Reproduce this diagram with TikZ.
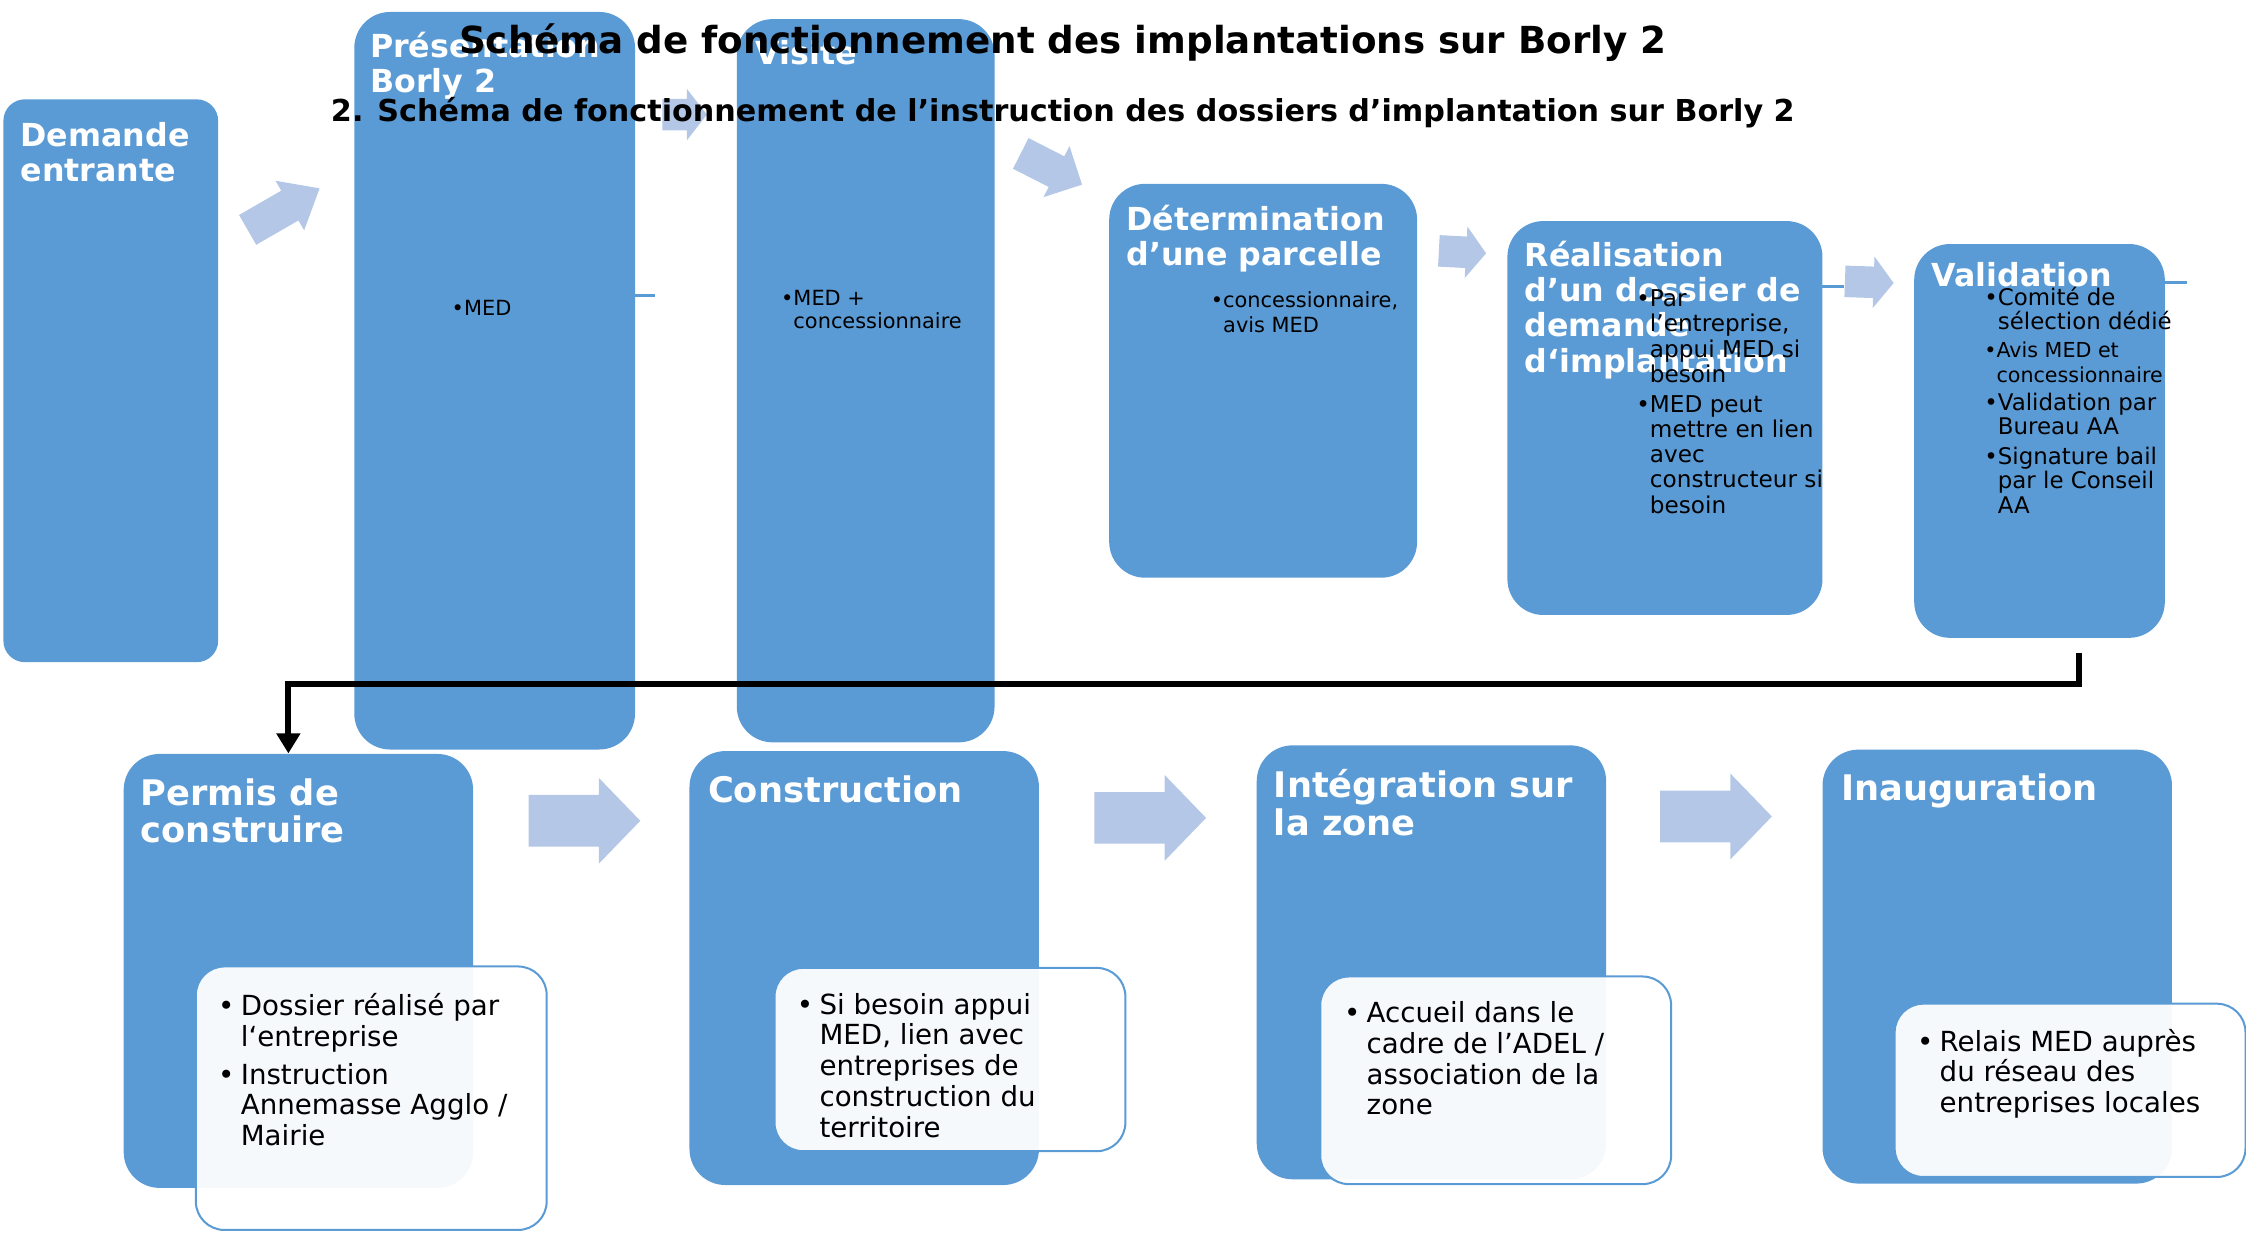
\documentclass[tikz,border=0pt]{standalone}
\usepackage{fontspec}
\setmainfont{DejaVu Sans}
\usetikzlibrary{arrows.meta,calc}
\definecolor{boxblue}{HTML}{5B9BD5}
\definecolor{arrowfill}{HTML}{B4C7E7}
% block arrow: x, y, angle, length, head width, body width, head length
\newcommand\blkarrow[7]{%
  \fill[arrowfill, shift={(#1,#2)}, rotate=#3]
    ({-#4/2},{-#6/2}) -- ({#4/2-#7},{-#6/2}) -- ({#4/2-#7},{-#5/2}) -- ({#4/2},0)
    -- ({#4/2-#7},{#5/2}) -- ({#4/2-#7},{#6/2}) -- ({-#4/2},{#6/2}) -- cycle;}
\newcommand\hb{\hphantom{•}}
\newcommand\bul{•\hspace{2.5pt}}
\newcommand\hbs{\hphantom{•}\hspace{2.5pt}}
\begin{document}
\begin{tikzpicture}[x=0.02cm,y=-0.02cm,
  box/.style={fill=boxblue, rounded corners=0.5cm, anchor=north west, inner sep=0, draw=none},
  over/.style={fill=white, fill opacity=0.94, draw=boxblue, line width=0.8pt, rounded corners=0.4cm, anchor=north west, inner sep=0},
  ttl/.style={text=white, font=\bfseries\fontsize{12.6}{14}\selectfont, anchor=north west, inner sep=0, align=left},
  ttlb/.style={ttl, font=\bfseries\fontsize{14}{15}\selectfont},
  bdy/.style={text=black, anchor=north west, inner sep=0, align=left},
  bdyb/.style={bdy, font=\fontsize{11}{12.2}\selectfont},
  conn/.style={line width=2.3pt, -{Triangle[length=0.28cm,width=0.32cm]}},
  stub/.style={draw=boxblue, line width=1.2pt}]
\useasboundingbox (0,0) rectangle (1568,865);

% top row boxes
\node[box, rounded corners=0.3cm, minimum width=3cm, minimum height=7.86cm] (dem) at (2,69) {};
\node[box, minimum width=3.92cm, minimum height=10.3cm] (pres) at (247,8) {};
\node[box, minimum width=3.6cm, minimum height=10.1cm] (vis) at (514,13) {};
\node[box, minimum width=4.3cm, minimum height=5.5cm] (det) at (774,128) {};
\node[box, minimum width=4.4cm, minimum height=5.5cm] (rea) at (1052,154) {};
\node[box, minimum width=3.5cm, minimum height=5.5cm] (val) at (1336,170) {};

% bottom row boxes
\node[box, minimum width=4.88cm, minimum height=6.06cm] (perm) at (86,526) {};
\node[box, minimum width=4.88cm, minimum height=6.06cm] (cons) at (481,524) {};
\node[box, minimum width=4.88cm, minimum height=6.06cm] (integ) at (877,520) {};
\node[box, minimum width=4.88cm, minimum height=6.06cm] (inau) at (1272,523) {};

% stubs
\draw[stub] (443,206) -- (457,206);
\draw[stub] (1272,200) -- (1287,200);
\draw[stub] (1511,197) -- (1527,197);

% arrows
\blkarrow{198}{146}{30}{58}{40}{24}{24}
\blkarrow{478}{80}{0}{31}{36}{22}{14}
\blkarrow{734}{118}{-27}{48}{40}{24}{20}
\blkarrow{1021}{176}{-3}{33}{36}{22}{14}
\blkarrow{1305}{197}{-2}{34}{36}{22}{14}
\blkarrow{408}{573}{0}{78}{60}{36}{29}
\blkarrow{803}{571}{0}{78}{60}{36}{29}
\blkarrow{1198}{570}{0}{78}{60}{36}{29}

% overlay boxes
\node[over, minimum width=4.9cm, minimum height=3.68cm] (permo) at (136,674) {};
\node[over, minimum width=4.9cm, minimum height=2.56cm] (conso) at (540,675) {};
\node[over, minimum width=4.9cm, minimum height=2.9cm] (intego) at (921,681) {};
\node[over, minimum width=4.9cm, minimum height=2.42cm] (inauo) at (1322,700) {};

% titles
\node[ttl] (demt) at (14,85) {Demande\\entrante};
\node[ttl] (prest) at (258,22) {Présentation\\Borly 2};
\node[ttl] (vist) at (527,28) {Visite};
\node[ttl] (dett) at (786,143) {Détermination\\d’une parcelle};
\node[ttl] (reat) at (1064,168) {Réalisation\\d’un dossier de\\demande\\d‘implantation};
\node[ttl] (valt) at (1348,183) {Validation};
\node[ttlb] (permt) at (98,543) {Permis de\\construire};
\node[ttlb] (const) at (494,541) {Construction};
\node[ttlb] (integt) at (889,537) {Intégration sur\\la zone};
\node[ttlb] (inaut) at (1285,540) {Inauguration};

% bodies top
\node[bdy, font=\fontsize{8.3}{10}\selectfont] (presb) at (315,209) {•MED};
\node[bdy, font=\fontsize{8.3}{9.3}\selectfont] (visb) at (545,202) {•MED +\\\hb concessionnaire};
\node[bdy, font=\fontsize{8.3}{10.2}\selectfont] (detb) at (845,203) {•concessionnaire,\\\hb avis MED};
\node[bdy, font=\fontsize{9.2}{10}\selectfont] (reab) at (1142,202)
  {•Par\\\hb l’entreprise,\\\hb appui MED si\\\hb besoin\\[2pt]•MED peut\\\hb mettre en lien\\\hb avec\\\hb constructeur si\\\hb besoin};
\node[bdy, font=\fontsize{9.1}{9.7}\selectfont] (valb) at (1385,200)
  {•Comité de\\\hb sélection dédié\\[1.5pt]
   \fontsize{8.2}{9.7}\selectfont •Avis MED et\\\fontsize{8.2}{9.7}\selectfont\hb concessionnaire\\[1.5pt]
   \fontsize{9.1}{9.7}\selectfont •Validation par\\\hb Bureau AA\\[2pt]•Signature bail\\\hb par le Conseil\\\hb AA};

% bodies bottom
\node[bdyb] (permb) at (152,693) {\bul Dossier réalisé par\\\hbs l‘entreprise\\[3pt]\bul Instruction\\\hbs Annemasse Agglo /\\\hbs Mairie};
\node[bdyb] (consb) at (556,693) {\bul Si besoin appui\\\hbs MED, lien avec\\\hbs entreprises de\\\hbs construction du\\\hbs territoire};
\node[bdyb] (integb) at (938,699) {\bul Accueil dans le\\\hbs cadre de l’ADEL /\\\hbs association de la\\\hbs zone};
\node[bdyb] (inaub) at (1338,718) {\bul Relais MED auprès\\\hbs du réseau des\\\hbs entreprises locales};

% connector
\draw[conn] ([xshift=0.55cm,yshift=-0.2cm]val.south) -- ++(0,22) -| ([xshift=-0.14cm]perm.north);

% main titles
\node[font=\bfseries\fontsize{14.8}{16}\selectfont, inner sep=0] (title) at (742,30) {Schéma de fonctionnement des implantations sur Borly 2};
\node[font=\bfseries\fontsize{12}{14}\selectfont, inner sep=0] (sub) at (742,79) {2. Schéma de fonctionnement de l’instruction des dossiers d’implantation sur Borly 2};
\end{tikzpicture}
\end{document}
